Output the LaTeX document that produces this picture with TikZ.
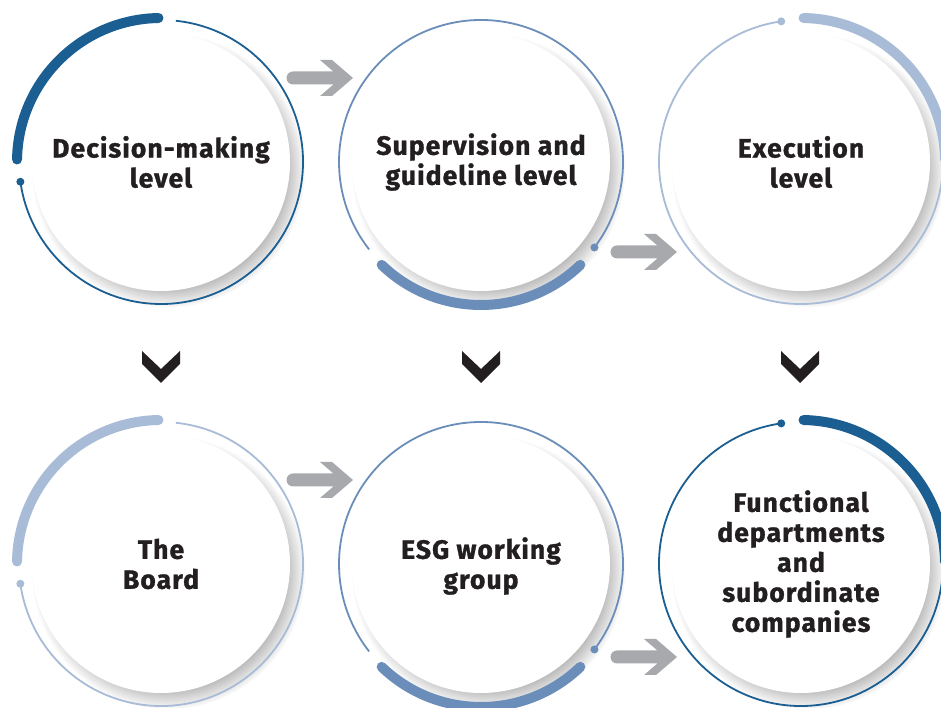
\documentclass[tikz,border=0pt]{standalone}
\usepackage{fontspec}
\setmainfont{Fira Sans}
\newfontfamily\lblfont{Fira Sans}[LetterSpace=4,FakeBold=1.2]
\usetikzlibrary{shadows,fadings}
\definecolor{cdark}{HTML}{1B5E92}
\definecolor{cmed}{HTML}{6A8EB9}
\definecolor{clight}{HTML}{A8BBD7}
\definecolor{cgray}{HTML}{A7A9AC}
\definecolor{cink}{HTML}{231F20}
\tikzset{
  disc/.style={circle, fill=white, minimum size=258pt, inner sep=0pt,
    circular drop shadow={shadow xshift=7pt, shadow yshift=-8pt, shadow scale=1.06, opacity=.5, fill=black!55}},
  lbl/.style={font=\lblfont\bfseries\fontsize{26.5}{30}\selectfont, text=cink, align=center},
  thinring/.style={line width=1.8pt},
  thickarc/.style={line width=10pt, line cap=round},
  grayarrow/.style={fill=cgray},
  chev/.style={fill=cink},
}
% ring types
\newcommand\ringTL[2]{% thick arc top-left, dot left
  \draw[thickarc,#2] (#1.center) ++(91:144) arc[start angle=91, end angle=179, radius=144];
  \draw[thinring,#2] (#1.center) ++(84:142) arc[start angle=84, end angle=-172, radius=142];
  \fill[#2] (#1.center) ++(188:142) circle (4);
}
\newcommand\ringBT[2]{% thick arc bottom, dot lower right
  \draw[thickarc,#2] (#1.center) ++(-46:143) arc[start angle=-46, end angle=-134, radius=143];
  \draw[thinring,#2] (#1.center) ++(-37:142) arc[start angle=-37, end angle=218, radius=142];
  \fill[#2] (#1.center) ++(-37:142) circle (4);
}
\newcommand\ringTR[2]{% thick arc top-right, dot top
  \draw[thickarc,#2] (#1.center) ++(89:144) arc[start angle=89, end angle=1, radius=144];
  \draw[thinring,#2] (#1.center) ++(98:142) arc[start angle=98, end angle=354, radius=142];
  \fill[#2] (#1.center) ++(98:142) circle (4);
}
\newcommand\grayarr[1]{% tip at coordinate #1
  \fill[grayarrow] ([shift={(-60,6.5)}]#1) -- ([shift={(-19.6,6.5)}]#1) -- ([shift={(-33,18)}]#1)
    -- ([shift={(-21,18)}]#1) -- (#1) -- ([shift={(-21,-18)}]#1) -- ([shift={(-33,-18)}]#1)
    -- ([shift={(-19.6,-6.5)}]#1) -- ([shift={(-60,-6.5)}]#1) arc[start angle=-90, end angle=-270, radius=6.5] -- cycle;
}
\newcommand\chevron[1]{% top centre at coordinate #1
  \fill[chev] ([shift={(-19,0)}]#1) -- ([shift={(0,-18)}]#1) -- ([shift={(19,0)}]#1)
    -- ([shift={(19,-13)}]#1) -- ([shift={(0,-32)}]#1) -- ([shift={(-19,-13)}]#1) -- cycle;
}
\begin{document}
\begin{tikzpicture}[x=1pt,y=1pt]
\useasboundingbox (0,0) rectangle (941,708);
\clip (0,0) rectangle (941,708);
\fill[white] (0,0) rectangle (941,708);
% discs
\node[disc] (c1) at (161,546) {};
\node[disc] (c2) at (481,546) {};
\node[disc] (c3) at (801,546) {};
\node[disc] (c4) at (161,144) {};
\node[disc] (c5) at (481,144) {};
\node[disc] (c6) at (801,144) {};
% rings
\ringTL{c1}{cdark}
\ringBT{c2}{cmed}
\ringTR{c3}{clight}
\ringTL{c4}{clight}
\ringBT{c5}{cmed}
\ringTR{c6}{cdark}
% labels
\node[lbl] (t1) at (c1) {Decision-making\\level};
\node[lbl] (t2) at (c2) {Supervision and\\guideline level};
\node[lbl] (t3) at (c3) {Execution\\level};
\node[lbl] (t4) at (c4) {The\\Board};
\node[lbl] (t5) at ([yshift=-2pt]c5.center) {ESG working\\group};
\node[lbl] (t6) at (c6) {Functional\\departments\\and\\subordinate\\companies};
% gray arrows
\coordinate (a1) at (353,630);
\coordinate (a2) at (677,456);
\coordinate (a3) at (353,228);
\coordinate (a4) at (677,51);
\grayarr{a1}
\grayarr{a2}
\grayarr{a3}
\grayarr{a4}
% chevrons
\coordinate (v1) at (161,357);
\coordinate (v2) at (481,357);
\coordinate (v3) at (800,357);
\chevron{v1}
\chevron{v2}
\chevron{v3}
\end{tikzpicture}
\end{document}
